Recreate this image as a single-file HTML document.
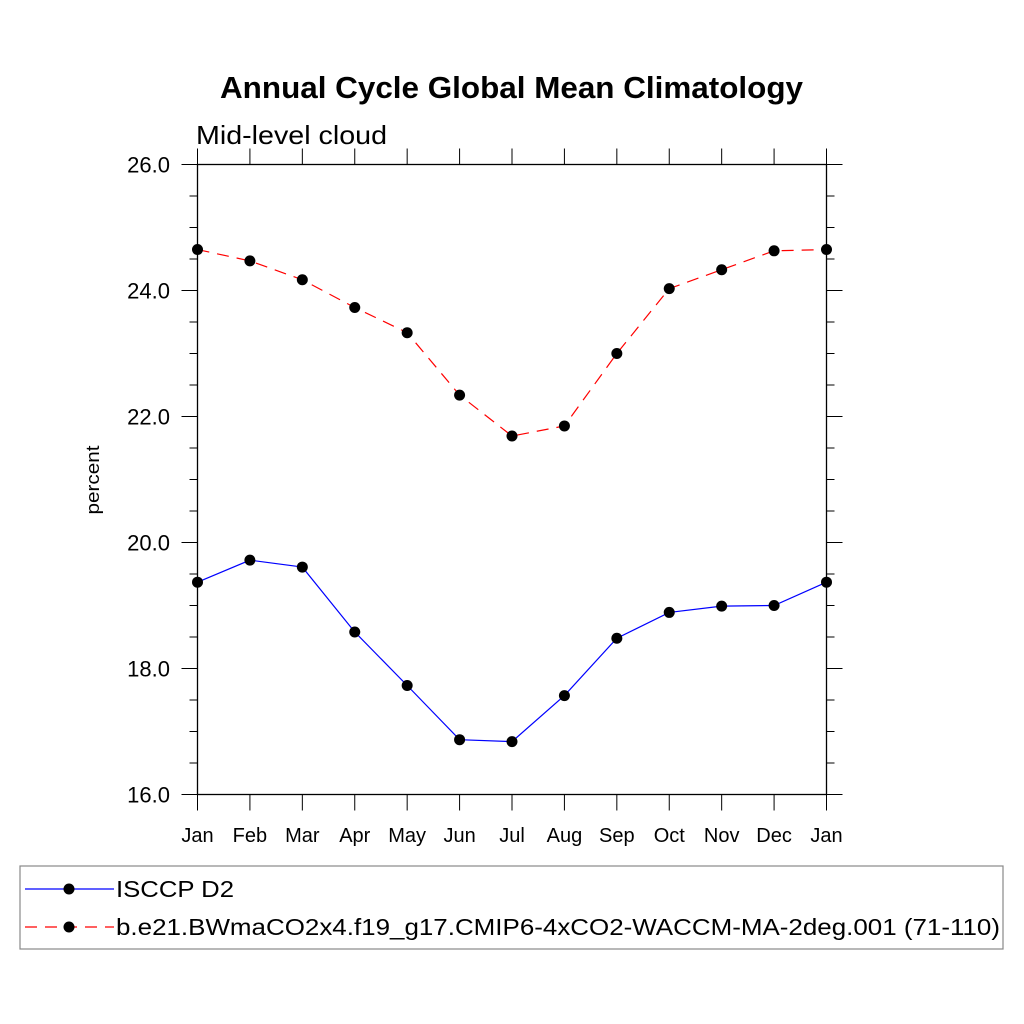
<!DOCTYPE html>
<html><head><meta charset="utf-8"><style>body{margin:0;background:#fff}svg{display:block}text{font-family:"Liberation Sans",sans-serif}</style></head>
<body>
<svg id="c" width="1024" height="1024">
<text x="220" y="98" font-size="31" font-weight="bold" textLength="583" lengthAdjust="spacingAndGlyphs">Annual Cycle Global Mean Climatology</text>
<text x="196" y="144" font-size="26" textLength="191" lengthAdjust="spacingAndGlyphs">Mid-level cloud</text>
<text transform="translate(99,480) rotate(-90)" font-size="18" text-anchor="middle" textLength="69" lengthAdjust="spacingAndGlyphs">percent</text>
<g id="axes"></g><g id="series"></g>
<rect x="20" y="866" width="983" height="83" fill="none" stroke="#888" stroke-width="1.2"/>
<g>
<line x1="25" y1="889" x2="114" y2="889" stroke="#0000ff" stroke-width="1.2"/>
<circle cx="69" cy="889" r="5.5" fill="#000"/>
<text x="116" y="897" font-size="23" textLength="118" lengthAdjust="spacingAndGlyphs">ISCCP D2</text></g>
<g>
<line x1="25" y1="927" x2="114" y2="927" stroke="#ff0000" stroke-width="1.2" stroke-dasharray="12,8"/>
<circle cx="69" cy="927" r="5.5" fill="#000"/>
<text x="116" y="935" font-size="23" textLength="884" lengthAdjust="spacingAndGlyphs">b.e21.BWmaCO2x4.f19_g17.CMIP6-4xCO2-WACCM-MA-2deg.001 (71-110)</text></g>
</svg>
<script>
const months=["Jan","Feb","Mar","Apr","May","Jun","Jul","Aug","Sep","Oct","Nov","Dec","Jan"];
const isccp=[19.37,19.72,19.61,18.58,17.73,16.87,16.84,17.57,18.48,18.89,18.99,19.0,19.37];
const model=[24.65,24.47,24.17,23.73,23.33,22.34,21.69,21.85,23.0,24.03,24.33,24.63,24.65];
const yTicks=["16.0","18.0","20.0","22.0","24.0","26.0"];
const X0=197.5,X1=826.5,Y0=794.5,Y1=164.5,YMIN=16,YMAX=26;
const xs=i=>X0+(X1-X0)*i/(months.length-1);
const ys=v=>Y0-(Y0-Y1)*(v-YMIN)/(YMAX-YMIN);
const NS="http://www.w3.org/2000/svg";
function mk(t,a,p){const e=document.createElementNS(NS,t);for(const k in a)e.setAttribute(k,a[k]);p.appendChild(e);return e;}
const ax=document.getElementById('axes'),se=document.getElementById('series');
const fr=mk('rect',{x:X0,y:Y1,width:X1-X0,height:Y0-Y1,fill:'none',stroke:'#000','stroke-width':1.3},ax);


for(let v=YMIN;v<=YMAX+1e-9;v+=0.5){const y=ys(v);const maj=Math.abs(v%2)<1e-9;const L=maj?16:8;
mk('line',{x1:X0-L,y1:y,x2:X0,y2:y,stroke:'#000','stroke-width':1},ax);
mk('line',{x1:X1,y1:y,x2:X1+L,y2:y,stroke:'#000','stroke-width':1},ax);}
yTicks.forEach(s=>{const t=mk('text',{x:170,y:ys(parseFloat(s))+8,'font-size':22,'text-anchor':'end'},ax);t.textContent=s;

});
months.forEach((m,i)=>{const x=xs(i);
mk('line',{x1:x,y1:Y0,x2:x,y2:Y0+16,stroke:'#000','stroke-width':1},ax);
mk('line',{x1:x,y1:Y1-16,x2:x,y2:Y1,stroke:'#000','stroke-width':1},ax);
const t=mk('text',{x:x,y:842,'font-size':20,'text-anchor':'middle'},ax);t.textContent=m;

});
function draw(d,col,dash,name){const g=mk('g',{},se);


mk('polyline',{points:d.map((v,i)=>xs(i)+','+ys(v)).join(' '),fill:'none',stroke:col,'stroke-width':1.2,'stroke-dasharray':dash},g);
d.forEach((v,i)=>{const c=mk('circle',{cx:xs(i),cy:ys(v),r:5.5,fill:'#000'},g);

});}
draw(isccp,'#0000ff','none','series-isccp');
draw(model,'#ff0000','12,8','series-model');
</script>
</body></html>
